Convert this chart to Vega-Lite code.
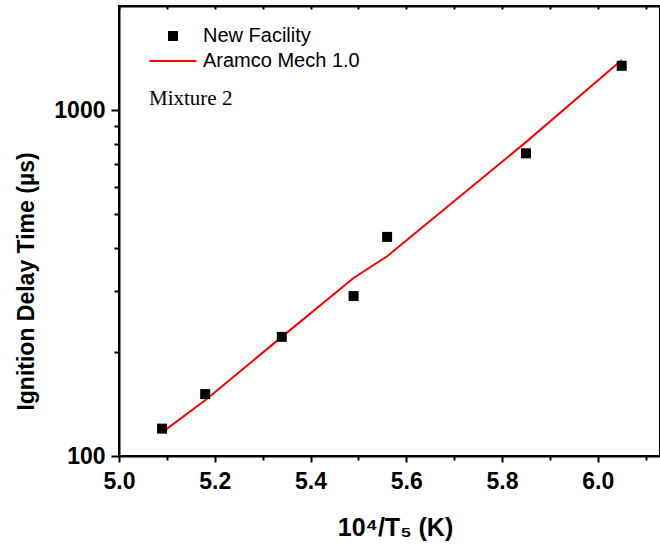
{
  "$schema": "https://vega.github.io/schema/vega-lite/v6.json",
  "width": 541,
  "height": 450,
  "autosize": {"type": "none"},
  "padding": {"left": 119, "top": 6, "right": 0, "bottom": 92},
  "background": "white",
  "config": {
    "view": {"stroke": "black", "strokeWidth": 2},
    "font": "Liberation Sans",
    "axis": {
      "grid": false,
      "labelFlush": false,
      "labelOverlap": false,
      "domainColor": "black",
      "domainWidth": 2,
      "tickColor": "black",
      "tickWidth": 2,
      "labelColor": "black",
      "titleColor": "black",
      "labelFont": "Liberation Sans",
      "labelFontWeight": "bold",
      "labelFontSize": 23,
      "titleFont": "Liberation Sans",
      "titleFontWeight": "bold"
    },
    "legend": {
      "orient": "none",
      "legendX": 30,
      "legendY": 20,
      "padding": 0,
      "labelFont": "Liberation Sans",
      "labelFontSize": 20,
      "labelColor": "black",
      "labelOffset": 20,
      "symbolOffset": 14,
      "clipHeight": 20,
      "rowPadding": 5,
      "symbolStrokeWidth": 2,
      "titleOrient": "bottom",
      "titleAnchor": "start",
      "titleAlign": "left",
      "titleBaseline": "alphabetic",
      "titlePadding": 34,
      "titleFont": "Liberation Serif",
      "titleFontSize": 21,
      "titleFontWeight": "normal",
      "titleColor": "black"
    }
  },
  "datasets": {
    "measured": [
      {"inv_T": 5.09, "tau": 120, "series": "New Facility"},
      {"inv_T": 5.18, "tau": 151, "series": "New Facility"},
      {"inv_T": 5.34, "tau": 221, "series": "New Facility"},
      {"inv_T": 5.49, "tau": 290, "series": "New Facility"},
      {"inv_T": 5.56, "tau": 430, "series": "New Facility"},
      {"inv_T": 5.85, "tau": 750, "series": "New Facility"},
      {"inv_T": 6.05, "tau": 1343, "series": "New Facility"}
    ],
    "model": [
      {"inv_T": 5.09, "tau": 117, "series": "Aramco Mech 1.0"},
      {"inv_T": 5.18, "tau": 145, "series": "Aramco Mech 1.0"},
      {"inv_T": 5.34, "tau": 221, "series": "Aramco Mech 1.0"},
      {"inv_T": 5.49, "tau": 327, "series": "Aramco Mech 1.0"},
      {"inv_T": 5.56, "tau": 378, "series": "Aramco Mech 1.0"},
      {"inv_T": 5.85, "tau": 808, "series": "Aramco Mech 1.0"},
      {"inv_T": 6.05, "tau": 1395, "series": "Aramco Mech 1.0"}
    ]
  },
  "layer": [
    {
      "data": {"name": "model"},
      "mark": {"type": "line", "strokeWidth": 2},
      "encoding": {
        "x": {
          "field": "inv_T",
          "type": "quantitative",
          "scale": {"domain": [5.0, 6.13], "nice": false, "zero": false},
          "axis": {
            "orient": "top",
            "title": null,
            "labels": false,
            "values": [5.0, 5.1, 5.2, 5.3, 5.4, 5.5, 5.6, 5.7, 5.8, 5.9, 6.0, 6.1],
            "tickSize": -3
          }
        },
        "y": {
          "field": "tau",
          "type": "quantitative",
          "scale": {"type": "log", "domain": [100, 2000], "nice": false},
          "axis": {
            "title": "Ignition Delay Time (µs)",
            "titleFontSize": 23,
            "titleAngle": 270,
            "titleX": -86,
            "titleY": 275,
            "titleAlign": "center",
            "titleBaseline": "alphabetic",
            "values": [100, 200, 300, 400, 500, 600, 700, 800, 900, 1000],
            "format": "d",
            "labelExpr": "datum.value == 100 || datum.value == 1000 ? datum.label : ''",
            "tickSize": {"condition": {"test": "datum.value == 100 || datum.value == 1000", "value": 8}, "value": 5},
            "labelPadding": 6
          }
        },
        "color": {
          "field": "series",
          "type": "nominal",
          "scale": {"domain": ["New Facility", "Aramco Mech 1.0"], "range": ["#000000", "#ff0000"]},
          "legend": {
            "title": "Mixture 2",
            "encode": {
              "symbols": {
                "update": {
                  "shape": {"signal": "datum.value === 'New Facility' ? 'square' : 'stroke'"},
                  "size": {"signal": "datum.value === 'New Facility' ? 100 : 2209"},
                  "fill": {"signal": "datum.value === 'New Facility' ? '#000000' : 'transparent'"},
                  "stroke": {"signal": "datum.value === 'New Facility' ? 'transparent' : '#ff0000'"},
                  "strokeWidth": {"signal": "datum.value === 'New Facility' ? 0 : 2"},
                  "opacity": {"value": 1}
                }
              }
            }
          }
        }
      }
    },
    {
      "data": {"name": "measured"},
      "mark": {"type": "point", "shape": "square", "filled": true, "size": 100, "opacity": 1},
      "encoding": {
        "x": {
          "field": "inv_T",
          "type": "quantitative",
          "axis": {
            "orient": "bottom",
            "title": "10⁴/T₅ (K)",
            "titleFontSize": 25,
            "titleX": 276,
            "titleY": 79,
            "titleAlign": "center",
            "titleBaseline": "alphabetic",
            "values": [5.0, 5.1, 5.2, 5.3, 5.4, 5.5, 5.6, 5.7, 5.8, 5.9, 6.0, 6.1],
            "labelExpr": "round(datum.value * 10) % 2 == 0 ? format(datum.value, '.1f') : ''",
            "tickSize": {"condition": {"test": "round(datum.value * 10) % 2 == 0", "value": 6}, "value": 4},
            "labelPadding": 8
          }
        },
        "y": {
          "field": "tau",
          "type": "quantitative",
          "axis": {
            "title": "Ignition Delay Time (µs)",
            "titleFontSize": 23,
            "titleAngle": 270,
            "titleX": -86,
            "titleY": 275,
            "titleAlign": "center",
            "titleBaseline": "alphabetic",
            "values": [100, 200, 300, 400, 500, 600, 700, 800, 900, 1000],
            "format": "d",
            "labelExpr": "datum.value == 100 || datum.value == 1000 ? datum.label : ''",
            "tickSize": {"condition": {"test": "datum.value == 100 || datum.value == 1000", "value": 8}, "value": 5},
            "labelPadding": 6
          }
        },
        "color": {
          "field": "series",
          "type": "nominal",
          "legend": {
            "title": "Mixture 2",
            "encode": {
              "symbols": {
                "update": {
                  "shape": {"signal": "datum.value === 'New Facility' ? 'square' : 'stroke'"},
                  "size": {"signal": "datum.value === 'New Facility' ? 100 : 2209"},
                  "fill": {"signal": "datum.value === 'New Facility' ? '#000000' : 'transparent'"},
                  "stroke": {"signal": "datum.value === 'New Facility' ? 'transparent' : '#ff0000'"},
                  "strokeWidth": {"signal": "datum.value === 'New Facility' ? 0 : 2"},
                  "opacity": {"value": 1}
                }
              }
            }
          }
        }
      }
    }
  ],
  "resolve": {"axis": {"x": "independent"}}
}
